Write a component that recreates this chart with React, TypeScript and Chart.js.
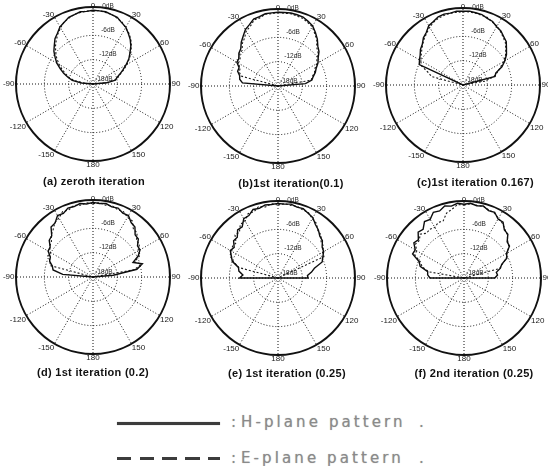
import React, { useEffect, useRef } from 'react';
import { Chart, registerables } from 'chart.js';

Chart.register(...registerables);

// ---------- axes / categories ----------
const STEP = 5;
const FRONT_ANGLES = [-90, -85, -80, -75, -70, -65, -60, -55, -50, -45, -40, -35, -30, -25, -20, -15, -10, -5, 0,
  5, 10, 15, 20, 25, 30, 35, 40, 45, 50, 55, 60, 65, 70, 75, 80, 85, 90];
const CIRCLE_LABELS = Array.from({ length: 360 / STEP }, (_, i) => i * STEP);
const ANGLE_TICKS = [0, 30, 60, 90, 120, 150, 180, -150, -120, -90, -60, -30];
const DB_RINGS = [-18, -12, -6, 0];
const DB_MIN = -18;
const FRAME_DB = 1;

// ---------- series (dB, angles -90..90 step 5) ----------
const A_H = [-18, -15.2, -12.8, -11.6, -10.3, -9.1, -7.7, -6.6, -5.4, -4.5, -3.4, -2.7, -1.7, -1.2, -0.5, -0.3, 0.1, 0, 0.2,
  0.1, 0.1, -0.3, -0.5, -1.3, -1.8, -2.8, -3.7, -4.8, -6.1, -7.2, -8.6, -9.9, -11.0, -11.9, -12.4, -14.6, -18];
const A_E = [-18, -16, -13.4, -11.9, -10.9, -9.6, -8.4, -7.1, -6.0, -4.9, -3.9, -2.9, -2.0, -1.1, -0.7, -0.2, -0.1, 0.1, 0,
  0.2, -0.1, -0.2, -0.7, -1.1, -2.0, -2.6, -3.5, -4.6, -5.8, -7.0, -8.3, -9.6, -10.8, -11.6, -12.6, -15, -18];

const B_H = [-18, -9.2, -8.4, -8.2, -7.4, -7.4, -6.3, -6.2, -5.4, -5.0, -3.9, -3.0, -1.9, -1.3, -0.4, -0.3, 0.1, 0.1, 0.2,
  0.2, 0.3, 0.2, 0.1, -0.4, -0.9, -1.9, -2.9, -4.1, -4.8, -5.9, -6.6, -7.6, -8.2, -9.0, -9.5, -11.2, -18];
const B_E = [-18, -18, -18, -8.6, -7.8, -7.7, -6.7, -6.6, -5.7, -5.5, -4.3, -3.6, -2.3, -1.8, -0.7, -0.6, 0, -0.1, 0.2,
  0, 0.1, -0.1, -0.2, -0.7, -1.1, -2.2, -3.1, -4.5, -5.1, -6.3, -6.9, -8.0, -8.4, -9.3, -9.7, -18, -18];

const C_H = [-18, -18, -18, -18, -18, -6.1, -5.6, -5.1, -4.3, -3.8, -2.8, -2.2, -1.1, -0.7, -0.1, 0.1, 0, 0.3, 0.2,
  0.3, 0.1, 0, -0.5, -0.7, -1.4, -1.7, -2.4, -2.9, -4.0, -4.9, -6.1, -7.4, -9.4, -9.8, -18, -18, -18];
const C_E = [-18, -18, -18, -10.0, -8.8, -6.6, -6.0, -5.4, -4.7, -3.9, -3.1, -2.4, -1.5, -0.9, -0.4, -0.2, 0, 0, 0.1,
  0.1, 0, -0.2, -0.3, -0.9, -1.2, -1.9, -2.6, -3.2, -4.2, -5.2, -6.4, -7.9, -9.0, -10.2, -12.6, -18, -18];

const D_H = [-18, -10.5, -8.0, -7.6, -6.6, -6.4, -5.2, -5.1, -3.9, -3.6, -1.9, -1.7, -0.5, -0.7, 0.1, 0, 0.4, 0.1, 0.4,
  0.2, 0.4, -0.1, 0.1, -0.6, -0.5, -1.6, -1.9, -3.3, -3.4, -4.6, -4.6, -5.7, -7.5, -5.4, -7.0, -13, -18];
const D_E = [-18, -18, -18, -7.0, -6.8, -5.7, -5.9, -4.9, -4.6, -3.4, -2.7, -1.6, -1.2, -0.2, -0.4, 0.3, 0, 0.4, 0.1,
  0.4, 0, 0.2, -0.3, -0.2, -1.0, -1.1, -2.5, -2.6, -4.0, -4.0, -5.2, -5.1, -7.1, -5.7, -7.6, -18, -18];

const E_H = [-8.5, -9.3, -8.2, -7.9, -6.0, -5.3, -4.4, -4.8, -3.7, -3.8, -2.5, -2.6, -1.1, -1.0, 0, -0.2, 0.3, 0.2, 0.4,
  0.3, 0.5, 0.1, 0.2, -0.4, -0.8, -1.9, -2.5, -3.4, -3.7, -4.7, -5.0, -5.8, -6.4, -8.7, -9.6, -10.7, -10.6];
const E_E = [-18, -18, -18, -8.0, -6.4, -4.9, -4.8, -4.3, -4.5, -3.0, -3.2, -1.8, -1.8, -0.5, -0.6, 0.3, -0.2, 0.4, 0,
  0.4, 0.2, 0.3, -0.1, -0.2, -1.1, -1.5, -2.7, -3.0, -4.1, -4.3, -5.3, -5.5, -18, -18, -18, -18, -18];

const F_H = [-9.6, -9.0, -8.9, -6.8, -6.2, -4.0, -4.1, -2.9, -3.3, -2.0, -2.3, -1.0, -1.3, -0.1, -0.4, 0.4, 0, 0.5, 0.2,
  0.5, 0.1, 0.4, -0.3, -0.1, -1.2, -1.2, -2.5, -2.7, -4.1, -4.3, -5.9, -6.3, -8.1, -8.7, -9.9, -9.7, -10.4];
const F_E = [-18, -18, -9.2, -7.3, -6.6, -4.6, -4.5, -3.4, -3.6, -2.7, -3.6, -3.3, -3.6, -2.9, -3.0, -1.4, -0.8, 0.2, 0,
  0.4, 0.2, 0.3, -0.1, -0.3, -1.0, -1.5, -2.3, -2.9, -3.9, -4.5, -5.7, -6.5, -7.9, -8.9, -18, -18, -18];

const CAPTIONS = [
  '(a) zeroth iteration',
  '(b)1st iteration(0.1)',
  '(c)1st iteration 0.167)',
  '(d) 1st iteration (0.2)',
  '(e) 1st iteration (0.25)',
  '(f) 2nd iteration (0.25)',
];
const H_SERIES = [A_H, B_H, C_H, D_H, E_H, F_H];
const E_SERIES = [A_E, B_E, C_E, D_E, E_E, F_E];

// ---------- layout (page coordinates) ----------
const CANVAS_W = 190;
const CANVAS_H = 190;
const LOCAL_CX = 95;
const LOCAL_CY = 92;
const RADIUS = 77;
const LAYOUT = [
  { cx: 93, cy: 84, capX: 94, capY: 181 },
  { cx: 278, cy: 86, capX: 291, capY: 182.5 },
  { cx: 463, cy: 85, capX: 475.5, capY: 181.5 },
  { cx: 93, cy: 277, capX: 93, capY: 372 },
  { cx: 278, cy: 278, capX: 287, capY: 372.5 },
  { cx: 464, cy: 278, capX: 474, capY: 372.5 },
];

function toCircle(front: number[]): number[] {
  return CIRCLE_LABELS.map((a) => {
    const s = a > 180 ? a - 360 : a;
    const k = FRONT_ANGLES.indexOf(s);
    return k >= 0 ? front[k] : DB_MIN;
  });
}

const polarText = {
  id: 'polarText',
  beforeDatasetsDraw(chart: any) {
    const s = chart.scales.r;
    const ctx = chart.ctx;
    ctx.save();
    ctx.fillStyle = '#1a1a1a';
    ctx.font = '8px "Liberation Sans", Arial, sans-serif';
    ANGLE_TICKS.forEach((a) => {
      const deg = ((a % 360) + 360) % 360;
      const idx = CIRCLE_LABELS.indexOf(deg);
      const vertical = deg === 0 || deg === 180;
      const side = deg === 90 || deg === 270;
      const p = s.getPointPosition(idx, s.drawingArea + (vertical ? -0.5 : side ? 1.5 : 0.5));
      ctx.textAlign = vertical ? 'center' : deg < 180 ? 'left' : 'right';
      ctx.textBaseline = side ? 'middle' : deg < 90 || deg > 270 ? 'alphabetic' : 'top';
      ctx.fillText(String(a), p.x, p.y);
    });
    ctx.fillStyle = '#2a2a2a';
    ctx.font = '6.5px "Liberation Sans", Arial, sans-serif';
    ctx.textAlign = 'center';
    ctx.textBaseline = 'middle';
    DB_RINGS.forEach((v) => {
      const r = s.getDistanceFromCenterForValue(v);
      ctx.fillText(`${v}dB`, s.xCenter + (r > 1 ? 15 : 11), s.yCenter - r - 5);
    });
    ctx.restore();
  },
};

function Panel({ index }: { index: number }) {
  const ref = useRef<HTMLCanvasElement | null>(null);
  const L = LAYOUT[index];
  useEffect(() => {
    if (!ref.current) return;
    const chart = new Chart(ref.current, {
      type: 'radar',
      data: {
        labels: CIRCLE_LABELS.map(String),
        datasets: [
          {
            label: 'H-plane pattern',
            data: toCircle(H_SERIES[index]),
            borderColor: '#0d0d0d',
            borderWidth: 1.4,
            pointRadius: 0,
            fill: false,
            tension: 0,
          },
          {
            label: 'E-plane pattern',
            data: toCircle(E_SERIES[index]),
            borderColor: '#1a1a1a',
            borderWidth: 1.1,
            borderDash: [2, 2],
            pointRadius: 0,
            fill: false,
            tension: 0,
          },
        ],
      },
      options: {
        animation: false,
        responsive: false,
        layout: {
          padding: {
            left: LOCAL_CX - RADIUS,
            right: CANVAS_W - LOCAL_CX - RADIUS,
            top: LOCAL_CY - RADIUS,
            bottom: CANVAS_H - LOCAL_CY - RADIUS,
          },
        },
        plugins: { legend: { display: false }, tooltip: { enabled: false } },
        scales: {
          r: {
            min: DB_MIN,
            max: FRAME_DB,
            startAngle: 0,
            afterBuildTicks: (sc: any) => {
              sc.ticks = [...DB_RINGS, FRAME_DB].map((v) => ({ value: v }));
            },
            ticks: { display: false },
            pointLabels: { display: false },
            grid: {
              circular: true,
              color: '#111',
              lineWidth: (c: any) => {
                const v = c.tick ? c.tick.value : 0;
                if (v === FRAME_DB) return 2;
                if (v === 0 || v === DB_MIN) return 0;
                return 1;
              },
            },
            border: {
              dash: (c: any) => (c.tick && c.tick.value === FRAME_DB ? [] : [1, 2]),
            },
            angleLines: {
              color: '#111',
              lineWidth: (c: any) => ((c.index * STEP) % 30 === 0 ? 1 : 0),
              borderDash: [1, 2],
            },
          },
        },
      } as any,
      plugins: [polarText],
    });
    return () => chart.destroy();
  }, [index]);
  return (
    <>
      <canvas
        ref={ref}
        width={CANVAS_W}
        height={CANVAS_H}
        style={{ position: 'absolute', left: L.cx - LOCAL_CX, top: L.cy - LOCAL_CY }}
      />
      <div
        style={{
          position: 'absolute',
          left: L.capX - 100,
          top: L.capY - 7,
          width: 200,
          textAlign: 'center',
          font: 'bold 11px "Liberation Sans", Arial, sans-serif',
          letterSpacing: '0.3px',
          lineHeight: '14px',
          color: '#111',
          whiteSpace: 'nowrap',
        }}
      >
        {CAPTIONS[index]}
      </div>
    </>
  );
}

const legendText: React.CSSProperties = {
  position: 'absolute',
  font: '15px "DejaVu Sans", sans-serif',
  letterSpacing: '3.1px',
  color: '#8a8a8a',
  lineHeight: '16px',
  whiteSpace: 'nowrap',
  textShadow: '0 0 1px #b0b0b0',
};

export default function App() {
  return (
    <div style={{ position: 'absolute', left: 0, top: 0, width: 548, height: 466, overflow: 'hidden', background: '#fff' }}>
      {CAPTIONS.map((_, i) => (
        <Panel key={i} index={i} />
      ))}
      <div style={{ position: 'absolute', left: 117, top: 421.5, width: 103, height: 3, background: '#3c3c3c', boxShadow: '0 0 1px #777' }} />
      <div
        style={{
          position: 'absolute',
          left: 117,
          top: 457,
          width: 103,
          height: 3,
          background: 'repeating-linear-gradient(to right, #3c3c3c 0 14.5px, transparent 14.5px 22.7px)',
        }}
      />
      <div style={{ ...legendText, left: 231, top: 414 }}>:</div>
      <div style={{ ...legendText, left: 241, top: 414 }}>H-plane pattern</div>
      <div style={{ ...legendText, left: 419, top: 414 }}>.</div>
      <div style={{ ...legendText, left: 231, top: 450 }}>:</div>
      <div style={{ ...legendText, left: 241, top: 450 }}>E-plane pattern</div>
      <div style={{ ...legendText, left: 419, top: 450 }}>.</div>
    </div>
  );
}
